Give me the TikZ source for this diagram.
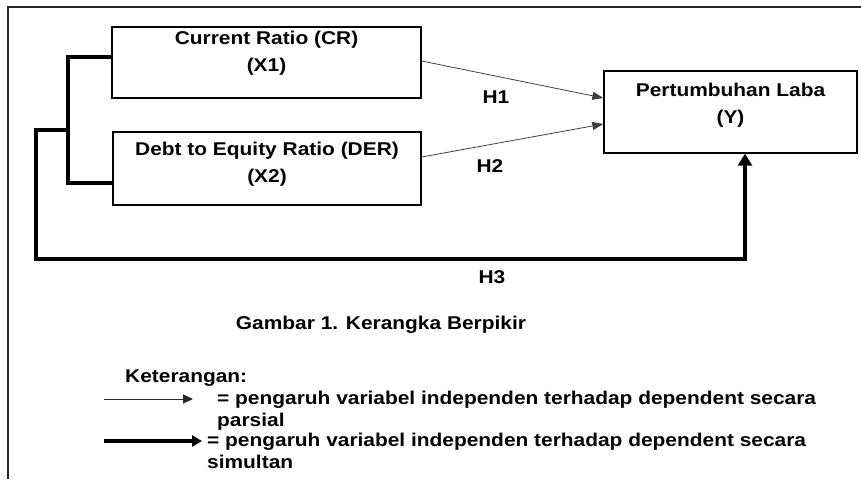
\documentclass[tikz,border=0pt]{standalone}
\usepackage{fontspec}
\setmainfont[FakeStretch=1.13]{Liberation Sans}
\usetikzlibrary{positioning, arrows.meta, calc}
\tikzset{
    varbox/.style={rectangle, draw=black, line width=1.3pt, fill=white},
    boxlbl/.style={anchor=north, align=center, inner sep=0pt, font=\fontsize{18.5}{24.5}\selectfont\bfseries},
    hlbl/.style={font=\fontsize{18.5}{24}\selectfont\bfseries},
    txt/.style={font=\fontsize{18.5}{21}\selectfont\bfseries, inner sep=0pt, align=left},
    arr/.style={-{Triangle[length=11pt, width=8pt]}, line width=0.8pt, color=black!75},
    simline/.style={line width=4pt, color=black},
    arrsim/.style={-{Triangle[length=12pt, width=14pt]}, line width=4pt, color=black},
    legthin/.style={-{Triangle[length=10pt, width=9pt]}, line width=1pt, color=black!85},
    legthick/.style={-{Triangle[length=10pt, width=11pt]}, line width=3.5pt, color=black}
}
\begin{document}
\begin{tikzpicture}[x=1pt, y=-1pt]
    \useasboundingbox (0,0) rectangle (861,479);
    % frame
    \draw[line width=1.2pt, color=black!85] (8,479) -- (8,7) -- (861,7);

    % variables
    \node[varbox, minimum width=309pt, minimum height=71pt,
          label={[boxlbl, label distance=-5pt]north:{Current Ratio (CR)\\[2pt](X1)}}] (cr) at (266.5,62.5) {};
    \node[varbox, minimum width=308pt, minimum height=73pt,
          label={[boxlbl, label distance=-11pt]north:{Debt to Equity Ratio (DER)\\[2pt](X2)}}] (der) at (267,168.5) {};
    \node[varbox, minimum width=253pt, minimum height=82pt,
          label={[boxlbl, label distance=-13pt]north:{Pertumbuhan Laba\\[2pt](Y)}}] (y) at (730.5,112) {};

    % partial effects
    \draw[arr] ([yshift=1.5pt]cr.east) -- ([yshift=14pt]y.west);
    \draw[arr] ([yshift=11.5pt]der.east) -- ([yshift=-12pt]y.west);
    \node[hlbl] (h1) at (496,97) {H1};
    \node[hlbl] (h2) at (490,166) {H2};

    % simultaneous effect
    \coordinate (jt) at (68,57);
    \coordinate (jb) at (68,183);
    \coordinate (jm) at (68,130);
    \coordinate (jl) at (36,130);
    \coordinate (jd) at (745,259);
    \draw[simline] (jt -| cr.west) -- (jt) -- (jb) -- (jb -| der.west);
    \draw[arrsim] (jm) -- (jl) |- (jd) -- (jd |- y.south);
    \node[hlbl] (h3) at (492,277) {H3};

    \node[hlbl] (cap) at (381,325) {Gambar 1. Kerangka Berpikir};

    % legend
    \node[txt, anchor=west] (ket) at (125,378) {Keterangan:};
    \coordinate (la) at (104,399);
    \coordinate (lb) at (193,399);
    \draw[legthin] (la) -- (lb);
    \node[txt, anchor=north west] (lt1) at (217,391) {= pengaruh variabel independen terhadap dependent secara\\[1pt]parsial};
    \coordinate (lc) at (104,441);
    \coordinate (ld) at (202,441);
    \draw[legthick] (lc) -- (ld);
    \node[txt, anchor=north west] (lt2) at (207,433) {= pengaruh variabel independen terhadap dependent secara\\[1pt]simultan};
\end{tikzpicture}
\end{document}
